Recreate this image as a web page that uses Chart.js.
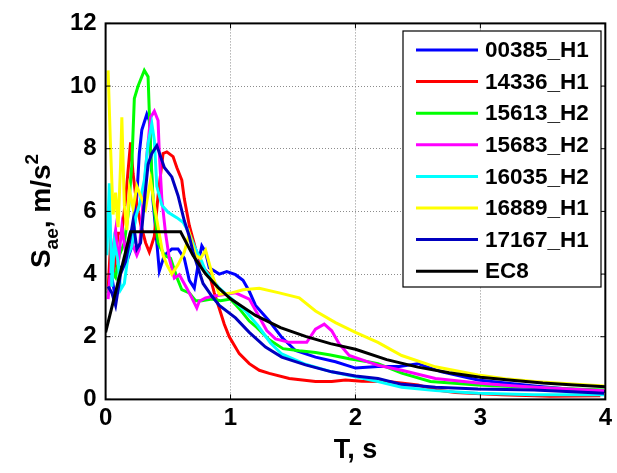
<!DOCTYPE html>
<html>
<head>
<meta charset="utf-8">
<script src="https://cdn.jsdelivr.net/npm/chart.js@4/dist/chart.umd.min.js"></script>
<style>
  html, body { margin: 0; padding: 0; background: #fff; }
  #wrap { width: 617px; height: 473px; }
</style>
</head>
<body>
<div id="wrap"><canvas id="sae-chart"></canvas></div>
<script>
// Elastic response spectra of selected records vs. the EC8 design spectrum
const X_TICKS = [0, 1, 2, 3, 4];
const Y_TICKS = [0, 2, 4, 6, 8, 10, 12];

const T_00385 = [0.02,0.05,0.08,0.12,0.17,0.22,0.25,0.27,0.29,0.33,0.35,0.37,0.38,0.41,0.43,0.47,0.53,0.58,0.63,0.67,0.71,0.74,0.77,0.8,0.83,0.91,0.97,1.04,1.1,1.15,1.2,1.31,1.41,1.52,1.68,1.84,2.0,2.18,2.35,2.5,2.69,2.98,3.2,3.43,3.7,4.0];
const S_00385 = [3.4,3.9,3.2,4.2,4.4,5.0,6.5,7.85,8.6,9.1,8.9,7.0,6.3,5.0,4.1,4.6,4.8,4.8,4.5,3.8,3.55,4.3,4.9,4.7,4.2,4.0,4.08,3.98,3.8,3.45,3.0,2.5,1.98,1.56,1.35,1.2,1.0,1.05,1.05,1.14,0.88,0.62,0.52,0.43,0.33,0.25];

const T_14336 = [0.02,0.04,0.07,0.1,0.13,0.16,0.18,0.2,0.22,0.25,0.28,0.32,0.35,0.39,0.42,0.46,0.49,0.54,0.57,0.61,0.63,0.67,0.72,0.78,0.83,0.87,0.91,0.95,0.99,1.07,1.15,1.23,1.31,1.47,1.68,1.81,1.92,2.05,2.26,2.5,2.65,2.8,3.17,3.56,3.96];
const S_14336 = [3.5,5.0,4.2,5.3,5.3,6.4,7.3,8.2,7.2,6.2,5.6,5.0,4.7,5.2,6.5,7.85,7.9,7.75,7.4,7.0,6.4,5.55,4.8,4.2,4.0,3.4,2.9,2.4,2.0,1.46,1.14,0.93,0.83,0.67,0.57,0.57,0.62,0.58,0.57,0.46,0.3,0.22,0.15,0.1,0.12];

const T_15613 = [0.02,0.05,0.08,0.11,0.15,0.18,0.21,0.23,0.26,0.31,0.34,0.36,0.38,0.42,0.47,0.52,0.57,0.61,0.67,0.72,0.77,0.85,0.92,1.0,1.08,1.15,1.21,1.31,1.42,1.55,1.68,1.8,1.95,2.1,2.18,2.37,2.6,2.98,3.2,3.43,3.7,3.99];
const S_15613 = [3.4,4.1,3.9,4.6,5.0,5.9,7.5,9.6,10.0,10.5,10.3,8.0,6.4,5.0,4.6,4.5,3.9,3.5,3.4,3.15,3.15,3.2,3.15,3.2,2.85,2.5,2.3,1.9,1.62,1.55,1.5,1.42,1.3,1.2,1.14,0.84,0.57,0.46,0.42,0.39,0.34,0.3];

const T_15683 = [0.02,0.05,0.08,0.1,0.13,0.16,0.19,0.22,0.25,0.27,0.3,0.33,0.36,0.39,0.42,0.43,0.45,0.48,0.51,0.55,0.59,0.65,0.69,0.73,0.75,0.8,0.86,0.95,1.04,1.15,1.22,1.29,1.36,1.47,1.61,1.68,1.75,1.81,1.87,1.95,2.1,2.18,2.37,2.64,2.98,3.2,3.43,3.7,3.99];
const S_15683 = [3.2,4.6,5.4,4.3,5.5,4.7,5.2,4.9,4.6,4.8,6.3,7.8,9.0,9.2,8.9,7.85,6.4,5.3,4.5,3.87,3.98,3.55,3.24,2.92,3.13,3.24,3.29,3.35,3.4,3.2,2.7,2.2,1.93,1.82,1.82,2.24,2.4,2.19,1.77,1.4,1.2,1.09,0.93,0.67,0.52,0.45,0.39,0.33,0.28];

const T_16035 = [0.01,0.03,0.05,0.07,0.1,0.12,0.15,0.18,0.21,0.24,0.27,0.31,0.34,0.37,0.39,0.41,0.45,0.5,0.57,0.62,0.67,0.72,0.77,0.8,0.91,1.0,1.12,1.22,1.32,1.41,1.6,1.81,2.0,2.18,2.37,2.64,2.98,3.43,3.99];
const S_16035 = [4.6,6.9,3.6,5.0,4.4,3.5,3.7,4.6,4.9,5.8,6.2,7.0,8.17,8.8,8.27,6.8,6.2,5.97,5.8,5.65,5.3,4.8,4.4,4.1,3.55,3.24,2.82,2.35,1.8,1.45,1.12,0.88,0.72,0.57,0.39,0.28,0.2,0.15,0.15];

const T_16889 = [0.02,0.04,0.06,0.08,0.1,0.12,0.13,0.15,0.17,0.19,0.22,0.25,0.28,0.32,0.36,0.39,0.42,0.46,0.49,0.53,0.58,0.63,0.67,0.72,0.76,0.8,0.86,0.91,1.01,1.1,1.23,1.39,1.55,1.68,1.84,2.0,2.18,2.37,2.64,2.98,3.2,3.43,3.7,3.99];
const S_16889 = [10.5,8.0,5.9,6.6,5.5,7.5,9.0,6.2,5.4,6.7,6.1,6.8,6.5,6.1,7.0,6.2,5.5,4.6,4.3,4.0,4.3,4.7,5.3,4.6,4.5,4.77,3.9,3.35,3.4,3.5,3.55,3.4,3.24,2.82,2.45,2.14,1.82,1.4,1.04,0.78,0.66,0.57,0.5,0.43];

const T_17167 = [0.02,0.05,0.08,0.12,0.16,0.19,0.22,0.25,0.28,0.31,0.34,0.37,0.41,0.47,0.53,0.58,0.63,0.67,0.7,0.74,0.78,0.85,0.91,1.04,1.15,1.28,1.41,1.6,1.81,2.0,2.18,2.37,2.64,2.98,3.43,3.99];
const S_17167 = [3.6,3.4,3.0,4.0,4.4,5.0,5.7,4.8,5.0,6.3,7.5,7.85,8.1,7.4,7.1,6.5,5.7,5.2,4.7,4.2,3.7,3.3,3.0,2.6,2.14,1.67,1.35,1.1,0.88,0.75,0.67,0.48,0.39,0.33,0.3,0.2];

const T_EC8 = [0,0.2,0.6,0.7,0.8,0.9,1.0,1.2,1.4,1.6,1.8,2.0,2.25,2.5,2.75,3.0,3.25,3.5,3.75,4.0];
const S_EC8 = [2.14,5.35,5.35,4.59,4.01,3.57,3.21,2.68,2.29,2.01,1.78,1.6,1.27,1.03,0.85,0.71,0.61,0.52,0.46,0.4];

const SERIES_NAMES = ['00385_H1', '14336_H1', '15613_H2', '15683_H2', '16035_H2', '16889_H1', '17167_H1', 'EC8'];
const SERIES_T = [T_00385, T_14336, T_15613, T_15683, T_16035, T_16889, T_17167, T_EC8];
const SERIES_S = [S_00385, S_14336, S_15613, S_15683, S_16035, S_16889, S_17167, S_EC8];
const SERIES_COLORS = ['#0000ff', '#ff0000', '#00ff00', '#ff00ff', '#00ffff', '#ffff00', '#0000bf', '#000000'];

const FONT = '"Liberation Sans", Arial, sans-serif';
const LINE_W = 3;

function toPoints(ts, ss) {
    return ts.map((t, i) => ({ x: t, y: ss[i] }));
}

// later series drawn on top, EC8 last
const datasets = SERIES_NAMES.map((name, i) => ({
    label: name,
    data: toPoints(SERIES_T[i], SERIES_S[i]),
    borderColor: SERIES_COLORS[i],
    backgroundColor: SERIES_COLORS[i],
    borderWidth: LINE_W,
    pointRadius: 0,
    tension: 0,
    fill: false,
    order: -i
}));

// box around the axes with inward ticks on all sides
const framePlugin = {
    id: 'frame',
    afterDatasetsDraw(chart) {
        const { ctx, chartArea: a, scales } = chart;
        ctx.save();
        ctx.strokeStyle = '#000';
        ctx.lineWidth = 1;
        ctx.beginPath();
        X_TICKS.forEach(v => {
            const px = scales.x.getPixelForValue(v);
            ctx.moveTo(px, a.bottom); ctx.lineTo(px, a.bottom - 5);
            ctx.moveTo(px, a.top); ctx.lineTo(px, a.top + 5);
        });
        Y_TICKS.forEach(v => {
            const py = scales.y.getPixelForValue(v);
            ctx.moveTo(a.left, py); ctx.lineTo(a.left + 5, py);
            ctx.moveTo(a.right, py); ctx.lineTo(a.right - 5, py);
        });
        ctx.stroke();
        ctx.lineWidth = 2;
        ctx.strokeRect(a.left, a.top, a.right - a.left, a.bottom - a.top);
        ctx.restore();
    }
};

// boxed legend in the upper right corner
const legendBoxPlugin = {
    id: 'legendBox',
    afterDraw(chart) {
        const ctx = chart.ctx;
        const bx = 403, by = 31, bw = 198, bh = 256, pitch = 31.6;
        ctx.save();
        ctx.fillStyle = '#fff';
        ctx.fillRect(bx, by, bw, bh);
        ctx.strokeStyle = '#000';
        ctx.lineWidth = 1.2;
        ctx.strokeRect(bx, by, bw, bh);
        ctx.font = 'bold 22.5px ' + FONT;
        ctx.textBaseline = 'middle';
        chart.data.datasets.forEach((ds, i) => {
            const y = by + 19 + i * pitch;
            ctx.strokeStyle = ds.borderColor;
            ctx.lineWidth = LINE_W;
            ctx.beginPath();
            ctx.moveTo(416, y);
            ctx.lineTo(478, y);
            ctx.stroke();
            ctx.fillStyle = '#000';
            ctx.fillText(ds.label, 485, y + 1);
        });
        ctx.restore();
    }
};

// axis titles: "T, s" and S with subscript ae and m/s squared
const axisTitlePlugin = {
    id: 'axisTitles',
    afterDraw(chart) {
        const { ctx, chartArea: a } = chart;
        ctx.save();
        ctx.fillStyle = '#000';
        ctx.textBaseline = 'alphabetic';

        ctx.font = 'bold 27px ' + FONT;
        ctx.textAlign = 'center';
        ctx.fillText('T, s', (a.left + a.right) / 2, 458);

        const big = 'bold 28px ' + FONT;
        const small = 'bold 19px ' + FONT;
        const parts = [
            { t: 'S', f: big, dy: 0 },
            { t: 'ae', f: small, dy: 8 },
            { t: ', m/s', f: big, dy: 0 },
            { t: '2', f: small, dy: -12 }
        ];
        let total = 0;
        parts.forEach(p => { ctx.font = p.f; p.w = ctx.measureText(p.t).width; total += p.w; });
        ctx.translate(50, 211);
        ctx.rotate(-Math.PI / 2);
        ctx.textAlign = 'left';
        let x = -total / 2;
        parts.forEach(p => {
            ctx.font = p.f;
            ctx.fillText(p.t, x, p.dy);
            x += p.w;
        });
        ctx.restore();
    }
};

new Chart(document.getElementById('sae-chart'), {
    type: 'line',
    data: { datasets: datasets },
    options: {
        responsive: true,
        maintainAspectRatio: false,
        animation: false,
        events: [],
        layout: { padding: { left: 0, right: 9, top: 19.4, bottom: 0 } },
        plugins: {
            legend: { display: false },
            tooltip: { enabled: false }
        },
        scales: {
            x: {
                type: 'linear',
                min: 0,
                max: 4,
                afterBuildTicks: scale => { scale.ticks = X_TICKS.map(v => ({ value: v })); },
                afterFit: scale => { scale.height = 73.6; },
                ticks: {
                    color: '#000',
                    padding: 5,
                    maxRotation: 0,
                    font: { family: FONT, size: 24, weight: 'bold' }
                },
                grid: { color: '#8c8c8c', lineWidth: 1, drawTicks: false },
                border: { display: false, dash: [1, 2] }
            },
            y: {
                type: 'linear',
                min: 0,
                max: 12,
                afterBuildTicks: scale => { scale.ticks = Y_TICKS.map(v => ({ value: v })); },
                afterFit: scale => { scale.width = 105.6; },
                ticks: {
                    color: '#000',
                    padding: 9,
                    font: { family: FONT, size: 24, weight: 'bold' }
                },
                grid: { color: '#8c8c8c', lineWidth: 1, drawTicks: false },
                border: { display: false, dash: [1, 2] }
            }
        }
    },
    plugins: [framePlugin, legendBoxPlugin, axisTitlePlugin]
});
</script>
</body>
</html>
